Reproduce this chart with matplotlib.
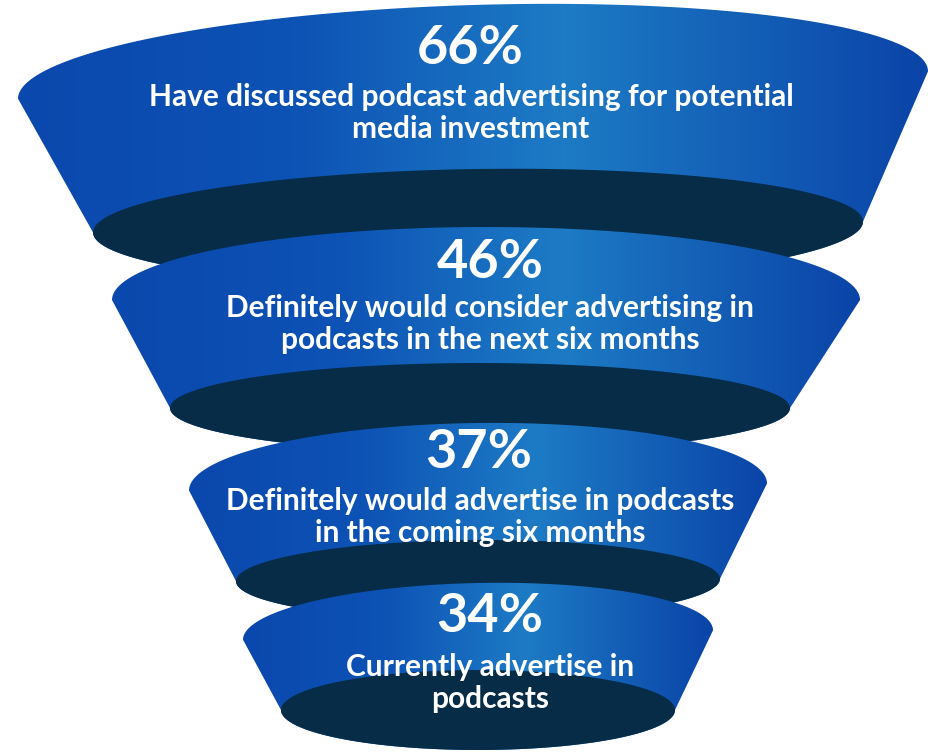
import numpy as np
import matplotlib
matplotlib.use("Agg")
import matplotlib.pyplot as plt
from matplotlib.patches import Polygon
from matplotlib.colors import LinearSegmentedColormap

# Funnel data (top to bottom)
values = [66, 46, 37, 34]
labels = [
    "Have discussed podcast advertising for potential\nmedia investment",
    "Definitely would consider advertising in\npodcasts in the next six months",
    "Definitely would advertise in podcasts\nin the coming six months",
    "Currently advertise in\npodcasts",
]

# Layout of each funnel ring in pixel space: (cx, cy, rx, ry, tilt)
top_ell = [(473, 85, 455, 80, 0.03), (486, 300, 374, 73, 0.0),
           (478, 487, 289, 64, 0.012), (478, 635, 235, 52, 0.02)]
bot_ell = [(478, 227, 385, 58, 0.014), (480, 408, 310, 45, 0.0),
           (478, 580, 242, 40, 0.005), (478, 710, 197, 40, 0.0)]
pct_pos = [(470, 48), (490, 263), (479, 452), (490, 617)]
txt_pos = [(471, 113), (490, 324), (480, 517), (490, 683)]

W, H = 929, 752
fig = plt.figure(figsize=(W / 100, H / 100), dpi=100)
ax = fig.add_axes([0, 0, 1, 1])

cmap = LinearSegmentedColormap.from_list(
    "funnel", [(0, "#0b48ad"), (0.3, "#0d52b5"), (0.6, "#1d7bc5"), (1, "#0a44a8")])
dark = "#062c47"


def ell_pts(e, t, upper):
    cx, cy, rx, ry, k = e
    dx = rx * np.cos(t)
    dy = -ry * np.sin(t) if upper else ry * np.sin(t)
    return cx + dx, cy + dy - k * dx


for i in range(len(values)):
    top_x, top_y = ell_pts(top_ell[i], np.linspace(np.pi, 0, 120), True)
    bot_x, bot_y = ell_pts(bot_ell[i], np.linspace(0, np.pi, 120), False)
    pts = np.column_stack([np.concatenate([top_x, bot_x]), np.concatenate([top_y, bot_y])])
    body = Polygon(pts, closed=True, facecolor="none", edgecolor="none", zorder=2 * i + 1)
    ax.add_patch(body)
    x0, x1 = pts[:, 0].min(), pts[:, 0].max()
    y0, y1 = pts[:, 1].min(), pts[:, 1].max()
    grad = np.linspace(0, 1, 256).reshape(1, -1)
    im = ax.imshow(grad, cmap=cmap, extent=(x0, x1, y1, y0), aspect="auto",
                   zorder=2 * i + 1, interpolation="bilinear")
    im.set_clip_path(body)
    ex, ey = ell_pts(bot_ell[i], np.linspace(0, 2 * np.pi, 240), False)
    ax.add_patch(Polygon(np.column_stack([ex, ey]), closed=True, facecolor=dark,
                         edgecolor="none", zorder=2 * i + 1.5))

for i, v in enumerate(values):
    ax.text(pct_pos[i][0], pct_pos[i][1], f"{v}%", color="white", fontsize=39,
            fontweight="bold", family="Lato", ha="center", va="center", zorder=20)
    ax.text(txt_pos[i][0], txt_pos[i][1], labels[i], color="white", fontsize=21.5,
            fontweight="bold", family="Lato", ha="center", va="center",
            linespacing=1.2, zorder=20)

ax.set_xlim(0, W)
ax.set_ylim(H, 0)
ax.axis("off")
fig.savefig("out.png", dpi=100, facecolor="white")
